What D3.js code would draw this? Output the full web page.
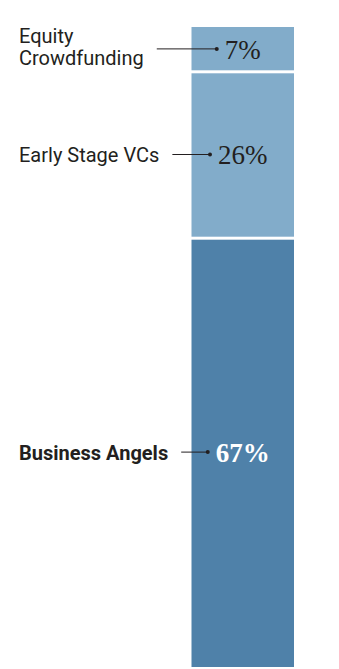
<!DOCTYPE html>
<meta charset="utf-8">
<style>
body { margin: 0; background: #fff; }
.label { font-family: Roboto, sans-serif; font-size: 20px; fill: #231f20; }
.pct { font-family: "Liberation Serif", serif; font-size: 27px; text-anchor: middle; }
</style>
<script src="https://cdnjs.cloudflare.com/ajax/libs/d3/7.8.5/d3.min.js"></script>
<body>
<script>

var categories = ["Equity Crowdfunding", "Early Stage VCs", "Business Angels"];
var labelLines = [["Equity", "Crowdfunding"], ["Early Stage VCs"], ["Business Angels"]];
var values = [7, 26, 67];
var colors = ["#82acca", "#82acca", "#4f81a9"];

var width = 339, height = 669;

var svg = d3.select("body").append("svg")
    .attr("width", width)
    .attr("height", height);

// stack from the top
var stacked = [];
var acc = 0;
values.forEach(function(v, i) {
  stacked.push({name: categories[i], lines: labelLines[i], value: v, y0: acc, y1: acc + v, i: i});
  acc += v;
});

var y = d3.scaleLinear().domain([0, 100]).range([27, 667]);
var x = d3.scaleBand().domain(["total"]).range([191.5, 294]).padding(0);

var gap = 1.5;

var seg = svg.selectAll("g.seg")
    .data(stacked)
    .enter().append("g")
    .attr("class", "seg");

seg.append("rect")
    .attr("x", x("total"))
    .attr("width", x.bandwidth())
    .attr("y", function(d) { return y(d.y0) + (d.i > 0 ? gap : 0); })
    .attr("height", function(d) {
      var top = y(d.y0) + (d.i > 0 ? gap : 0);
      var bot = y(d.y1) - (d.i < stacked.length - 1 ? gap : 0);
      return bot - top;
    })
    .style("fill", function(d) { return colors[d.i]; });

// percentage labels, centered in each segment
seg.append("text")
    .attr("class", "pct")
    .attr("x", x("total") + x.bandwidth() / 2)
    .attr("y", function(d) { return (y(d.y0) + y(d.y1)) / 2; })
    .attr("dy", "0.35em")
    .style("fill", function(d) { return d.i == 2 ? "#fff" : "#231f20"; })
    .style("font-weight", function(d) { return d.i == 2 ? "bold" : "normal"; })
    .text(function(d) { return d.value + "%"; });

// category labels on the left
var lab = seg.append("text")
    .attr("class", "label")
    .attr("x", 19)
    .attr("y", function(d) { return (y(d.y0) + y(d.y1)) / 2; })
    .style("font-weight", function(d) { return d.i == 2 ? "bold" : "normal"; });

lab.selectAll("tspan")
    .data(function(d) { return d.lines.map(function(l, j) { return {t: l, j: j, n: d.lines.length}; }); })
    .enter().append("tspan")
    .attr("x", function(d) { return 19; })
    .attr("dy", function(d) {
      if (d.n > 1) return d.j == 0 ? "-0.34em" : "1.12em";
      return "0.36em";
    })
    .text(function(d) { return d.t; });

// leader lines with dots
seg.each(function(d) {
  var g = d3.select(this);
  var tb = g.select("text.label").node().getBBox();
  var pb = g.select("text.pct").node().getBBox();
  var cy = (y(d.y0) + y(d.y1)) / 2 - 0.5;
  var x1 = tb.x + tb.width + 13;
  var x2 = pb.x - 8;
  g.append("line")
    .attr("x1", x1).attr("x2", x2)
    .attr("y1", cy).attr("y2", cy)
    .style("stroke", "#231f20")
    .style("stroke-width", 1);
  g.append("circle")
    .attr("cx", x2).attr("cy", cy)
    .attr("r", 2)
    .style("fill", "#231f20");
});

</script>
</body>
